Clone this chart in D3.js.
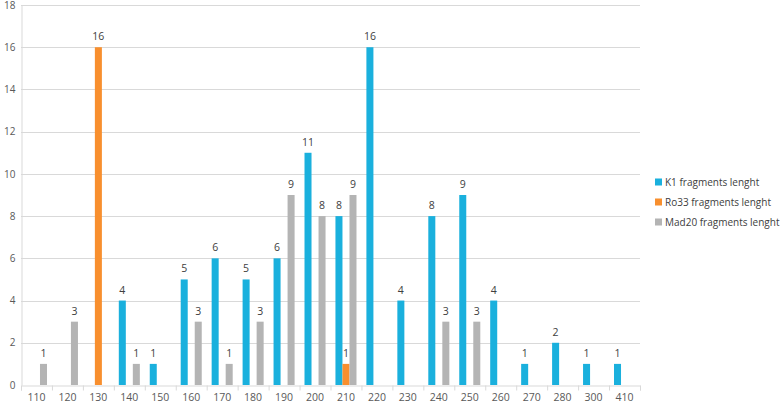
<!DOCTYPE html>
<html>
<head>
<meta charset="utf-8">
<script src="https://d3js.org/d3.v7.min.js"></script>
<style>
  body { margin: 0; background: #fff; }
  svg { display: block; }
  svg text { font-family: "Open Sans", "Noto Sans", sans-serif; }
</style>
</head>
<body>
<script>
// data
var categories = ["110", "120", "130", "140", "150", "160", "170", "180", "190", "200",
                  "210", "220", "230", "240", "250", "260", "270", "280", "300", "410"];
var k1Values   = [0, 0, 0, 4, 1, 5, 6, 5, 6, 11, 8, 16, 4, 8, 9, 4, 1, 2, 1, 1];
var ro33Values = [0, 0, 16, 0, 0, 0, 0, 0, 0, 0, 1, 0, 0, 0, 0, 0, 0, 0, 0, 0];
var mad20Values = [1, 3, 0, 1, 0, 3, 1, 3, 9, 8, 9, 0, 0, 3, 3, 0, 0, 0, 0, 0];
var seriesNames = ["K1 fragments lenght", "Ro33 fragments lenght", "Mad20 fragments lenght"];
var seriesColors = ["#1ab0dd", "#f88f2e", "#b4b4b4"];
var yTicks = [0, 2, 4, 6, 8, 10, 12, 14, 16, 18];

var series = [k1Values, ro33Values, mad20Values];

var width = 780, height = 403;
var plotLeft = 21, plotRight = 640, plotTop = 5, plotBottom = 385;

var svg = d3.select("body").append("svg")
    .attr("width", width)
    .attr("height", height);

var x0 = d3.scaleBand().domain(categories).range([plotLeft, plotRight]).paddingInner(0.32).paddingOuter(0.16);
var x1 = d3.scaleBand().domain(d3.range(series.length)).range([0, x0.bandwidth()]);
var y = d3.scaleLinear().domain([0, 18]).range([plotBottom, plotTop]);

// gridlines
svg.append("g").selectAll("line")
    .data(yTicks.filter(function(d) { return d > 0; }))
    .enter().append("line")
    .attr("x1", plotLeft).attr("x2", plotRight)
    .attr("y1", function(d) { return Math.round(y(d)) + 0.5; })
    .attr("y2", function(d) { return Math.round(y(d)) + 0.5; })
    .attr("stroke", "#d9d9d9");

// y axis
var yAxis = svg.append("g")
    .attr("transform", "translate(" + (plotLeft + 0.5) + ",0)")
    .call(d3.axisLeft(y).tickValues(yTicks).tickSize(0).tickPadding(6));
yAxis.select(".domain").attr("stroke", "#d9d9d9");
yAxis.selectAll("text").attr("fill", "#595959").style("font-size", "10px");

// x axis
var xAxis = svg.append("g")
    .attr("transform", "translate(0," + (plotBottom + 0.5) + ")")
    .call(d3.axisBottom(d3.scalePoint().domain(d3.range(categories.length + 1)).range([plotLeft, plotRight]))
        .tickSize(5).tickFormat(""));
xAxis.select(".domain").attr("stroke", "#d9d9d9");
xAxis.selectAll("line").attr("stroke", "#d9d9d9");

svg.append("g").selectAll("text")
    .data(categories)
    .enter().append("text")
    .attr("x", function(d) { return x0(d) + x0.bandwidth() / 2; })
    .attr("y", 401)
    .attr("text-anchor", "middle")
    .attr("fill", "#595959")
    .style("font-size", "10.5px")
    .text(function(d) { return d; });

// bars
series.forEach(function(vals, si) {
    var g = svg.append("g");
    var pts = categories.map(function(c, i) { return { c: c, v: vals[i] }; })
        .filter(function(d) { return d.v > 0; });
    g.selectAll("rect")
        .data(pts)
        .enter().append("rect")
        .attr("x", function(d) { return x0(d.c) + x1(si); })
        .attr("width", x1.bandwidth())
        .attr("y", function(d) { return y(d.v); })
        .attr("height", function(d) { return y(0) - y(d.v); })
        .attr("fill", seriesColors[si]);
    g.selectAll("text")
        .data(pts)
        .enter().append("text")
        .attr("x", function(d) { return x0(d.c) + x1(si) + x1.bandwidth() / 2; })
        .attr("y", function(d) { return y(d.v) - 7; })
        .attr("text-anchor", "middle")
        .attr("fill", "#404040")
        .style("font-size", "10.5px")
        .text(function(d) { return d.v; });
});

// legend
var legend = svg.append("g").attr("transform", "translate(655,182)");
seriesNames.forEach(function(name, i) {
    legend.append("rect")
        .attr("x", 0).attr("y", i * 20 - 3.5)
        .attr("width", 7).attr("height", 7)
        .attr("fill", seriesColors[i]);
    legend.append("text")
        .attr("x", 10).attr("y", i * 20 + 4)
        .attr("fill", "#404040")
        .style("font-size", "10px")
        .text(name);
});
</script>
</body>
</html>
